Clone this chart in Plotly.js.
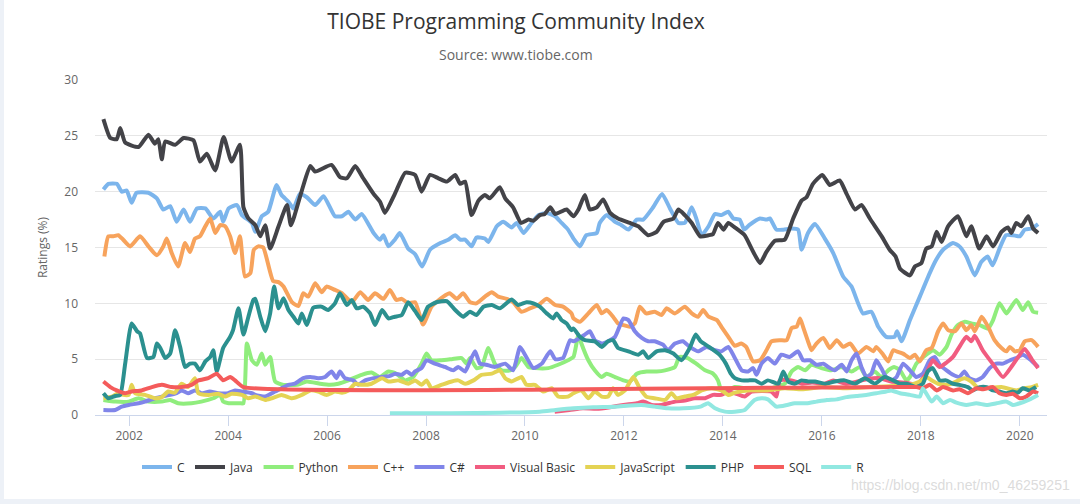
<!DOCTYPE html>
<html>
<head>
<meta charset="utf-8">
<script src="https://cdn.plot.ly/plotly-3.0.1.min.js"></script>
<style>
html,body{margin:0;padding:0;background:#fff;}
#chart{width:1080px;height:504px;}
</style>
</head>
<body>
<div id="chart"></div>
<script>
// ---- Data (decimal years, ratings in %) ----
const seriesNames = ["C","Java","Python","C++","C#","Visual Basic","JavaScript","PHP","SQL","R"];

const cYears = [2001.48,2001.58,2001.75,2001.85,2001.95,2002.05,2002.15,2002.39,2002.56,2002.69,2002.83,2002.96,2003.10,2003.23,2003.37,2003.54,2003.70,2003.84,2003.90,2004.01,2004.18,2004.28,2004.48,2004.55,2004.68,2004.81,2004.98,2005.08,2005.22,2005.32,2005.45,2005.59,2005.76,2005.93,2006.16,2006.30,2006.43,2006.57,2006.70,2006.94,2007.07,2007.14,2007.24,2007.37,2007.47,2007.64,2007.78,2007.92,2008.08,2008.29,2008.45,2008.59,2008.69,2008.79,2008.92,2009.02,2009.19,2009.26,2009.43,2009.56,2009.73,2009.83,2009.97,2010.10,2010.27,2010.44,2010.61,2010.74,2010.87,2010.98,2011.11,2011.24,2011.45,2011.51,2011.65,2011.82,2011.95,2012.09,2012.26,2012.39,2012.59,2012.77,2012.93,2013.10,2013.23,2013.37,2013.47,2013.57,2013.71,2013.84,2013.97,2014.11,2014.21,2014.34,2014.43,2014.53,2014.75,2014.88,2014.95,2015.08,2015.22,2015.39,2015.52,2015.59,2015.72,2015.86,2016.06,2016.23,2016.43,2016.60,2016.83,2017.00,2017.14,2017.30,2017.47,2017.52,2017.61,2017.78,2017.98,2018.18,2018.31,2018.45,2018.65,2018.78,2018.92,2019.09,2019.22,2019.35,2019.45,2019.59,2019.72,2019.86,2020.00,2020.10,2020.24,2020.37];
const cValues = [20.2,20.7,20.7,20.0,20.1,19.0,19.9,19.9,19.4,18.4,18.7,17.3,18.4,17.3,18.5,18.5,17.6,18.2,17.3,18.5,18.8,17.9,17.2,16.4,17.8,18.2,20.6,19.7,19.1,18.5,19.8,19.5,18.8,19.6,17.8,17.8,18.2,17.5,18.0,16.3,15.7,16.1,15.1,15.7,16.3,14.9,14.4,13.3,14.8,15.4,15.7,16.1,15.7,15.7,15.1,15.9,15.8,15.5,16.9,17.3,16.8,17.2,16.3,17.0,17.9,18.1,17.8,17.2,16.6,15.8,15.1,16.1,16.3,17.2,17.9,17.3,17.0,16.6,17.5,17.5,18.6,19.8,18.5,17.2,17.2,18.6,17.5,16.1,16.9,18.0,17.9,18.2,17.6,17.5,16.6,17.0,17.6,17.5,17.6,16.6,16.6,16.7,16.6,14.8,16.3,17.1,15.8,14.5,12.4,11.5,9.1,9.25,7.9,7.0,7.0,7.5,6.6,8.5,10.6,12.7,13.9,14.8,15.4,15.1,14.2,12.5,13.7,14.2,13.4,14.9,16.1,16.1,16.0,16.6,16.7,17.1];

const javaYears = [2001.48,2001.62,2001.75,2001.82,2001.92,2002.19,2002.39,2002.52,2002.59,2002.66,2002.73,2002.93,2003.10,2003.30,2003.43,2003.57,2003.74,2003.91,2004.07,2004.24,2004.31,2004.41,2004.55,2004.65,2004.75,2004.85,2005.02,2005.19,2005.27,2005.49,2005.66,2005.76,2006.09,2006.26,2006.40,2006.57,2006.73,2006.94,2007.07,2007.17,2007.37,2007.58,2007.78,2007.91,2008.08,2008.25,2008.42,2008.59,2008.69,2008.79,2008.92,2009.06,2009.19,2009.29,2009.49,2009.60,2009.76,2009.92,2010.07,2010.17,2010.30,2010.40,2010.51,2010.61,2010.84,2010.98,2011.08,2011.21,2011.31,2011.45,2011.58,2011.72,2011.88,2012.12,2012.29,2012.49,2012.66,2012.80,2013.00,2013.10,2013.23,2013.37,2013.54,2013.71,2013.80,2013.90,2014.01,2014.11,2014.24,2014.44,2014.58,2014.75,2014.88,2015.05,2015.25,2015.42,2015.59,2015.69,2015.82,2016.01,2016.16,2016.36,2016.50,2016.67,2016.80,2016.97,2017.21,2017.37,2017.49,2017.58,2017.78,2017.88,2018.01,2018.11,2018.22,2018.32,2018.42,2018.55,2018.75,2018.92,2019.02,2019.18,2019.33,2019.46,2019.63,2019.76,2019.83,2019.93,2020.03,2020.17,2020.27,2020.37];
const javaValues = [26.5,24.8,24.7,25.7,24.4,24.0,25.1,24.3,24.7,22.9,24.5,24.2,24.8,24.6,22.7,23.4,21.9,24.9,22.7,24.2,18.6,17.6,17.0,16.0,17.0,14.9,16.9,18.8,17.0,20.1,22.3,21.8,22.4,21.3,21.2,22.3,21.2,19.8,19.1,18.1,19.8,21.7,21.5,20.0,21.5,21.2,20.9,21.5,20.7,20.9,17.9,19.2,19.7,19.4,20.4,19.4,18.6,17.2,17.5,17.4,17.9,18.0,18.6,18.0,18.4,17.8,18.4,19.7,18.4,18.6,19.3,18.1,17.6,17.2,16.9,16.1,16.4,17.3,17.6,18.4,17.9,17.2,16.0,16.1,16.2,17.2,16.6,17.2,16.8,16.1,14.9,13.6,14.6,15.6,15.7,17.6,19.2,19.5,20.7,21.5,20.6,21.0,19.8,18.4,18.8,17.6,16.0,14.8,14.2,13.1,12.5,13.3,13.6,14.9,15.1,16.4,15.5,16.9,17.8,16.0,16.9,14.9,16.0,15.1,16.4,16.8,16.3,17.2,16.9,17.8,16.7,16.3];

const pythonYears = [2001.48,2001.72,2001.99,2002.19,2002.39,2002.66,2002.83,2002.99,2003.26,2003.46,2003.70,2003.84,2003.90,2004.01,2004.24,2004.31,2004.38,2004.48,2004.58,2004.68,2004.75,2004.85,2004.95,2005.12,2005.39,2005.59,2005.86,2006.06,2006.23,2006.43,2006.70,2006.90,2007.07,2007.24,2007.40,2007.58,2007.74,2007.91,2008.01,2008.11,2008.31,2008.52,2008.72,2008.82,2008.89,2009.02,2009.12,2009.26,2009.39,2009.53,2009.70,2009.80,2009.93,2010.07,2010.20,2010.47,2010.67,2010.87,2010.98,2011.08,2011.14,2011.28,2011.41,2011.55,2011.65,2011.82,2011.99,2012.12,2012.26,2012.46,2012.66,2012.83,2013.03,2013.12,2013.29,2013.46,2013.64,2013.80,2013.90,2013.97,2014.11,2014.24,2014.44,2014.64,2014.85,2015.05,2015.25,2015.39,2015.52,2015.66,2015.79,2015.99,2016.19,2016.39,2016.60,2016.77,2016.90,2017.07,2017.20,2017.34,2017.46,2017.58,2017.71,2017.78,2017.91,2018.11,2018.25,2018.38,2018.52,2018.62,2018.75,2018.89,2019.02,2019.19,2019.36,2019.46,2019.59,2019.73,2019.93,2020.06,2020.17,2020.27,2020.37];
const pythonValues = [1.35,1.2,1.2,1.5,1.2,1.2,1.35,1.05,1.05,1.2,1.5,1.8,1.2,1.05,1.05,1.05,6.4,4.9,4.5,5.5,4.5,5.2,3.0,2.7,2.7,3.0,2.8,2.7,2.8,3.1,3.6,3.8,3.4,3.9,3.7,3.1,3.4,4.6,5.5,4.9,4.9,5.0,5.1,4.6,5.1,4.2,4.3,6.0,4.6,4.0,4.0,4.3,5.1,4.3,4.2,4.2,4.5,4.9,5.2,7.2,6.4,4.9,4.0,3.4,3.7,3.4,3.1,3.0,3.7,3.9,3.9,4.0,4.3,5.2,5.1,4.6,4.0,3.7,3.1,2.2,2.2,2.5,2.4,2.2,2.2,2.5,2.8,3.9,4.3,4.0,4.5,4.2,4.0,4.3,3.9,4.3,3.4,3.9,3.4,4.0,4.3,4.0,3.1,3.4,4.6,5.4,5.8,5.4,6.1,7.2,8.05,8.35,8.2,8.05,7.75,8.5,10.0,9.1,10.3,9.4,10.1,9.25,9.15];

const cppYears = [2001.50,2001.58,2001.68,2001.78,2001.88,2002.02,2002.22,2002.39,2002.56,2002.69,2002.76,2002.86,2002.99,2003.13,2003.23,2003.33,2003.43,2003.54,2003.64,2003.74,2003.84,2003.94,2004.04,2004.14,2004.24,2004.34,2004.45,2004.52,2004.61,2004.71,2004.91,2005.02,2005.12,2005.29,2005.42,2005.52,2005.62,2005.76,2005.89,2005.99,2006.16,2006.30,2006.50,2006.67,2006.83,2006.97,2007.14,2007.27,2007.40,2007.51,2007.64,2007.78,2007.94,2008.11,2008.35,2008.48,2008.62,2008.75,2008.89,2009.02,2009.19,2009.33,2009.46,2009.63,2009.76,2009.93,2010.10,2010.27,2010.44,2010.61,2010.77,2010.94,2010.98,2011.11,2011.28,2011.45,2011.55,2011.65,2011.78,2011.88,2011.99,2012.12,2012.22,2012.32,2012.45,2012.62,2012.76,2012.86,2013.03,2013.23,2013.37,2013.50,2013.60,2013.71,2013.88,2013.97,2014.11,2014.24,2014.37,2014.47,2014.61,2014.75,2014.88,2014.98,2015.15,2015.29,2015.39,2015.49,2015.56,2015.62,2015.72,2015.79,2015.89,2016.03,2016.16,2016.30,2016.43,2016.57,2016.73,2016.90,2017.04,2017.10,2017.24,2017.34,2017.44,2017.51,2017.64,2017.78,2017.88,2017.98,2018.11,2018.22,2018.35,2018.45,2018.55,2018.69,2018.82,2018.92,2019.02,2019.09,2019.23,2019.36,2019.49,2019.63,2019.73,2019.80,2019.90,2020.00,2020.10,2020.24,2020.37];
const cppValues = [14.2,16.0,16.0,16.1,15.7,15.1,16.0,15.1,14.3,15.1,15.8,14.5,13.3,15.4,14.6,15.8,16.0,16.9,17.6,16.3,17.0,16.9,16.0,14.5,16.0,12.4,12.7,14.8,15.1,15.0,12.0,11.9,11.5,10.1,9.75,10.9,10.6,11.8,11.0,11.5,11.2,10.9,10.1,11.0,10.3,10.9,10.4,11.2,10.3,10.4,10.0,10.1,8.1,9.7,10.6,10.9,10.4,10.9,10.1,10.0,10.6,11.0,10.6,10.4,10.1,9.25,9.55,9.85,10.4,9.85,9.7,9.1,8.65,8.35,9.1,9.85,9.1,9.4,8.8,8.2,8.05,7.9,8.2,9.7,9.1,9.25,8.95,9.55,9.1,9.7,9.1,8.8,9.4,8.8,8.5,7.9,7.0,6.2,6.4,6.1,4.8,4.9,5.8,6.6,6.7,6.7,7.8,7.9,8.65,7.9,6.6,5.8,6.4,6.9,6.0,6.7,6.1,6.4,5.5,6.1,5.7,6.1,5.4,4.8,5.8,5.7,5.5,5.1,5.4,4.8,5.8,6.0,7.5,8.2,7.6,7.5,8.2,7.6,8.05,7.5,8.8,7.9,6.7,6.0,5.7,6.1,5.7,5.8,6.6,6.7,6.1];

const csYears = [2001.48,2001.72,2001.85,2001.99,2002.19,2002.32,2002.52,2002.66,2002.83,2002.96,2003.06,2003.19,2003.33,2003.46,2003.63,2003.80,2004.00,2004.14,2004.28,2004.48,2004.55,2004.75,2004.95,2005.08,2005.22,2005.35,2005.52,2005.66,2005.82,2005.96,2006.09,2006.19,2006.26,2006.36,2006.53,2006.63,2006.77,2006.94,2007.10,2007.27,2007.37,2007.51,2007.61,2007.71,2007.78,2007.91,2008.01,2008.18,2008.38,2008.55,2008.65,2008.79,2008.85,2008.99,2009.09,2009.22,2009.39,2009.60,2009.76,2009.90,2010.00,2010.17,2010.34,2010.51,2010.61,2010.77,2010.91,2010.98,2011.11,2011.21,2011.31,2011.41,2011.55,2011.68,2011.82,2011.99,2012.09,2012.22,2012.36,2012.49,2012.62,2012.79,2012.89,2013.03,2013.19,2013.33,2013.50,2013.67,2013.84,2013.97,2014.11,2014.23,2014.38,2014.51,2014.61,2014.68,2014.78,2014.91,2015.05,2015.18,2015.35,2015.52,2015.62,2015.76,2015.89,2016.03,2016.13,2016.26,2016.40,2016.50,2016.60,2016.70,2016.80,2016.90,2017.00,2017.10,2017.20,2017.30,2017.41,2017.51,2017.64,2017.78,2017.91,2018.04,2018.18,2018.28,2018.38,2018.52,2018.65,2018.78,2018.88,2018.98,2019.12,2019.25,2019.39,2019.52,2019.66,2019.80,2019.93,2020.06,2020.20,2020.37];
const csValues = [0.45,0.45,0.75,0.9,1.05,1.2,1.5,1.65,1.8,1.95,2.2,1.95,2.2,1.95,2.1,1.95,1.95,2.2,2.1,1.95,1.8,1.65,2.1,2.4,2.7,2.8,3.3,3.4,3.3,3.4,3.9,3.3,3.9,3.3,3.1,2.7,3.1,3.3,3.4,3.5,3.7,3.6,3.9,3.6,3.9,4.2,4.9,4.6,4.3,4.0,4.3,3.9,4.4,5.7,4.6,4.5,4.3,4.6,4.0,6.1,5.4,4.2,4.6,5.7,5.0,5.1,6.7,6.6,6.9,7.2,7.5,6.7,6.4,6.6,7.0,8.65,8.5,7.5,6.9,6.6,6.6,6.3,5.8,6.4,6.6,6.1,5.7,6.1,5.8,5.7,6.1,5.2,4.0,3.9,4.2,3.6,4.6,5.1,4.6,5.4,5.2,5.7,4.9,4.9,4.5,4.6,4.3,4.0,4.5,3.9,4.9,5.5,4.3,3.4,3.7,4.9,4.2,3.4,3.1,3.4,4.6,4.0,3.4,3.7,4.9,5.2,4.5,4.0,3.6,3.4,3.9,3.3,3.1,3.4,4.2,4.6,4.6,4.9,5.1,5.4,5.0,4.3];

const vbYears = [2010.60,2010.90,2011.17,2011.45,2011.72,2011.99,2012.26,2012.39,2012.56,2012.76,2013.03,2013.23,2013.43,2013.64,2013.80,2013.97,2014.11,2014.24,2014.44,2014.58,2014.98,2015.08,2015.15,2015.39,2015.60,2015.80,2016.06,2016.23,2016.50,2016.90,2017.17,2017.40,2017.70,2017.91,2018.11,2018.24,2018.38,2018.52,2018.65,2018.78,2018.92,2019.02,2019.09,2019.25,2019.45,2019.66,2019.86,2020.10,2020.24,2020.37];
const vbValues = [0.3,0.45,0.6,0.55,0.7,0.9,1.05,1.2,0.9,0.9,1.2,1.3,1.5,1.5,1.8,1.8,2.1,1.95,1.65,2.1,2.1,1.65,3.1,3.1,2.8,2.9,2.8,3.1,2.8,3.2,3.3,3.0,2.9,2.7,3.7,4.9,4.3,4.7,5.2,6.1,7.0,6.6,7.1,5.8,4.6,3.4,4.5,5.9,5.0,4.2];

const jsYears = [2001.48,2001.65,2001.78,2001.88,2001.99,2002.05,2002.12,2002.32,2002.52,2002.66,2002.79,2002.92,2003.06,2003.19,2003.33,2003.40,2003.60,2003.80,2003.94,2004.07,2004.28,2004.41,2004.55,2004.75,2004.88,2005.08,2005.29,2005.49,2005.66,2005.82,2005.99,2006.16,2006.30,2006.43,2006.57,2006.70,2006.90,2007.11,2007.24,2007.44,2007.64,2007.78,2007.91,2008.01,2008.11,2008.31,2008.52,2008.65,2008.79,2008.96,2009.12,2009.33,2009.49,2009.60,2009.73,2009.93,2010.03,2010.20,2010.37,2010.54,2010.67,2010.87,2010.98,2011.14,2011.28,2011.41,2011.55,2011.68,2011.78,2011.88,2012.02,2012.19,2012.32,2012.45,2012.62,2012.83,2012.96,2013.06,2013.23,2013.40,2013.57,2013.77,2013.97,2014.11,2014.24,2014.50,2014.90,2015.25,2015.60,2016.00,2016.50,2017.00,2017.50,2017.78,2017.98,2018.11,2018.22,2018.35,2018.55,2018.88,2019.02,2019.16,2019.33,2019.63,2019.93,2020.10,2020.24,2020.37];
const jsValues = [1.5,1.65,1.95,1.8,1.8,2.7,1.95,1.8,1.5,1.6,2.1,2.0,2.8,2.5,3.3,1.95,1.8,1.9,1.65,1.9,1.8,1.5,1.65,1.35,1.5,1.8,1.5,1.8,2.2,2.1,1.8,2.1,2.0,2.2,2.8,2.7,2.8,3.3,3.0,3.1,2.8,3.1,2.7,3.1,2.4,2.7,3.0,3.1,2.8,3.1,3.6,3.7,4.0,3.3,3.0,3.4,2.7,2.7,2.1,2.4,1.65,1.65,1.95,2.2,1.5,2.1,1.65,1.65,2.4,1.8,2.2,3.4,2.4,1.65,1.5,1.35,1.95,1.5,1.65,1.8,2.2,2.4,2.2,1.8,2.0,2.2,2.2,2.4,2.3,2.5,2.4,2.5,2.6,2.7,3.0,3.4,3.1,2.8,2.7,3.3,3.0,2.4,2.4,2.5,2.2,2.4,2.5,2.7];

const phpYears = [2001.48,2001.58,2001.72,2001.82,2001.92,2002.05,2002.16,2002.22,2002.36,2002.49,2002.56,2002.63,2002.73,2002.83,2002.93,2003.03,2003.13,2003.23,2003.33,2003.43,2003.54,2003.64,2003.70,2003.77,2003.90,2004.04,2004.10,2004.21,2004.31,2004.41,2004.51,2004.55,2004.65,2004.75,2004.85,2004.93,2005.02,2005.12,2005.22,2005.32,2005.42,2005.49,2005.59,2005.72,2005.89,2006.02,2006.16,2006.26,2006.40,2006.50,2006.60,2006.73,2006.87,2006.97,2007.11,2007.24,2007.37,2007.51,2007.64,2007.78,2007.91,2008.04,2008.21,2008.42,2008.59,2008.75,2008.89,2009.02,2009.16,2009.33,2009.49,2009.73,2009.86,2010.03,2010.17,2010.30,2010.44,2010.57,2010.64,2010.74,2010.84,2010.94,2010.98,2011.11,2011.21,2011.41,2011.55,2011.68,2011.78,2011.88,2012.09,2012.29,2012.39,2012.49,2012.66,2012.83,2013.00,2013.16,2013.33,2013.45,2013.55,2013.72,2013.93,2014.06,2014.16,2014.24,2014.38,2014.51,2014.65,2014.78,2014.91,2015.12,2015.22,2015.32,2015.45,2015.59,2015.72,2015.86,2016.06,2016.26,2016.46,2016.67,2016.87,2017.07,2017.27,2017.44,2017.58,2017.71,2017.78,2017.91,2018.04,2018.14,2018.24,2018.38,2018.51,2018.65,2018.78,2018.95,2019.05,2019.19,2019.33,2019.46,2019.59,2019.73,2019.86,2019.96,2020.06,2020.20,2020.33];
const phpValues = [1.95,1.5,1.7,1.8,4.6,8.2,7.5,7.3,5.1,5.2,6.4,6.0,5.1,5.5,7.6,6.1,4.3,4.6,4.6,4.0,4.8,5.2,5.8,3.9,6.0,7.0,7.6,9.55,7.2,8.8,10.3,10.4,8.8,7.5,9.1,11.5,9.55,10.45,9.4,8.8,8.2,9.1,8.05,9.6,9.7,9.4,10.0,10.9,9.85,10.3,9.55,9.7,9.1,8.05,9.4,8.65,8.8,8.95,10.1,9.3,8.5,9.7,10.1,10.2,9.4,8.8,9.25,8.95,9.7,9.85,9.55,10.35,9.85,10.1,10.0,9.7,9.1,8.65,9.1,8.5,8.2,7.6,7.75,7.0,6.7,6.6,6.1,6.6,6.7,6.0,5.7,5.4,5.7,5.1,5.7,5.8,5.5,4.9,6.0,7.2,6.6,6.1,5.4,4.6,3.7,3.3,3.1,3.1,3.1,2.8,3.1,2.8,3.9,3.0,2.8,3.1,3.0,3.0,2.8,3.0,3.1,2.8,3.3,2.8,3.4,3.1,2.8,2.8,2.7,2.5,2.8,3.9,4.2,3.1,3.1,2.8,2.7,2.5,2.2,2.5,2.5,2.2,2.1,1.95,2.1,2.0,2.4,2.2,2.5];

const sqlYears = [2001.48,2001.62,2001.75,2001.92,2002.05,2002.25,2002.46,2002.66,2002.86,2003.06,2003.26,2003.40,2003.60,2003.77,2003.90,2004.04,2004.14,2004.31,2017.91,2018.04,2018.18,2018.32,2018.45,2018.65,2018.78,2018.95,2019.12,2019.26,2019.46,2019.59,2019.73,2019.86,2020.00,2020.13,2020.27,2020.37];
const sqlValues = [3.0,2.5,2.2,1.95,2.1,2.2,2.5,2.7,2.5,2.5,2.7,3.1,3.3,3.7,3.1,3.4,3.1,2.5,2.5,2.4,2.7,2.2,2.5,2.2,2.3,1.95,2.4,2.3,2.5,1.95,1.8,1.9,1.5,1.65,2.1,1.95];

const rYears = [2007.27,2008.50,2009.50,2010.30,2010.62,2010.98,2011.38,2011.82,2012.35,2012.62,2012.89,2013.20,2013.55,2013.70,2013.84,2014.04,2014.24,2014.44,2014.64,2014.78,2014.91,2015.08,2015.30,2015.45,2015.69,2015.89,2016.10,2016.30,2016.50,2016.70,2016.90,2017.10,2017.30,2017.40,2017.58,2017.78,2017.98,2018.04,2018.22,2018.32,2018.45,2018.59,2018.72,2018.92,2019.12,2019.33,2019.53,2019.73,2019.86,2020.00,2020.20,2020.37];
const rValues = [0.15,0.15,0.2,0.3,0.45,0.6,0.7,0.75,0.9,0.75,0.6,0.6,0.75,1.05,0.6,0.3,0.3,0.45,1.35,1.5,1.4,0.75,0.9,1.05,1.05,1.2,1.35,1.4,1.6,1.7,1.8,1.95,2.1,2.2,1.95,1.8,1.65,2.4,1.2,1.65,1.05,1.35,1.1,0.9,1.05,0.9,1.05,1.2,0.9,1.05,1.4,1.8];

const yearTicks = [2002,2004,2006,2008,2010,2012,2014,2016,2018,2020];

// ---- Styling ----
const colors = ["#7cb5ec","#434348","#90ed7d","#f7a35c","#8085e9","#f15c80","#e4d354","#2b908f","#f45b5b","#91e8e1"];
const xs = [cYears,javaYears,pythonYears,cppYears,csYears,vbYears,jsYears,phpYears,sqlYears,rYears];
const ys = [cValues,javaValues,pythonValues,cppValues,csValues,vbValues,jsValues,phpValues,sqlValues,rValues];

const traces = seriesNames.map((n,i)=>({
  type:'scatter', mode:'lines', name:n, x:xs[i], y:ys[i],
  line:{color:colors[i], width:4, shape:'spline', smoothing:0.5}
}));

const PW = 952, PH = 335; // plot area size in px (for paper-coordinate placement)
const layout = {
  width:1080, height:504,
  paper_bgcolor:'#ffffff', plot_bgcolor:'#ffffff',
  margin:{l:95, r:33, t:80, b:89},
  font:{family:'"Open Sans", "DejaVu Sans", sans-serif', color:'#666666', size:12},
  title:{text:'TIOBE Programming Community Index', x:516/1080, xanchor:'center', y:1-22/504, yanchor:'middle', yref:'container', xref:'container',
         font:{size:21, color:'#333333', family:'"Open Sans", sans-serif'}},
  xaxis:{range:[2001.31,2020.55], tickvals:yearTicks, ticktext:yearTicks.map(String),
         showgrid:false, zeroline:false, showline:true, linecolor:'#ccd6eb', linewidth:1,
         ticks:'outside', ticklen:10, tickcolor:'#ccd6eb', tickfont:{size:12,color:'#666666'}, fixedrange:true},
  yaxis:{range:[0,30], dtick:5, tick0:0, showgrid:true, gridcolor:'#e6e6e6', gridwidth:1, zeroline:false,
         showline:false, ticks:'', ticklabelstandoff:16, tickfont:{size:12,color:'#666666'},
         title:{text:'Ratings (%)', font:{size:12,color:'#666666'}, standoff:14}},
  showlegend:true,
  legend:{orientation:'h', x:(503.5-95)/PW, xanchor:'center', y:-(467-415)/PH, yanchor:'middle',
          font:{size:12,color:'#333333'}, itemwidth:30, tracegroupgap:0, bgcolor:'rgba(0,0,0,0)'},
  shapes:[
    {type:'rect', xref:'paper', yref:'paper', x0:(0-95)/PW, x1:(4-95)/PW, y0:(415-504)/PH, y1:(415-0)/PH,
     fillcolor:'#edf1f7', line:{width:0}, layer:'below'},
    {type:'rect', xref:'paper', yref:'paper', x0:(0-95)/PW, x1:(1080-95)/PW, y0:(415-504)/PH, y1:(415-499)/PH,
     fillcolor:'#edf1f7', line:{width:0}, layer:'below'}
  ],
  annotations:[
    {text:'Source: www.tiobe.com', xref:'paper', yref:'paper', x:(516-95)/PW, xanchor:'center', y:1+(80-54)/PH, yanchor:'middle',
     showarrow:false, font:{size:14,color:'#666666'}},
    {text:'https://blog.csdn.net/m0_46259251', xref:'paper', yref:'paper', x:(1072-95)/PW, xanchor:'right', y:-(485-415)/PH, yanchor:'middle',
     showarrow:false, font:{size:14,color:'rgba(215,215,215,0.9)', family:'"Liberation Sans", Arial, sans-serif'}}
  ]
};

Plotly.newPlot('chart', traces, layout, {displayModeBar:false, staticPlot:true});
</script>
</body>
</html>
